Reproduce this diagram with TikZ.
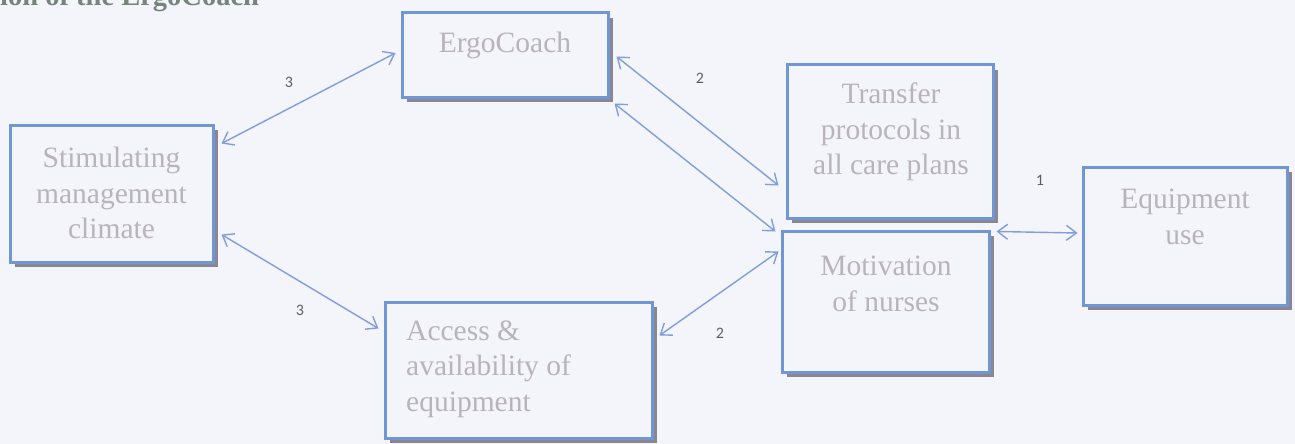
\documentclass[tikz,border=0pt]{standalone}
\usepackage{fontspec}
\setmainfont{Liberation Serif}
\newfontfamily\numfont{Carlito}
\usetikzlibrary{arrows.meta,shadows,calc}
\definecolor{bg}{RGB}{244,244,251}
\definecolor{boxblue}{RGB}{112,150,214}
\definecolor{arrblue}{RGB}{128,158,218}
\definecolor{shadowgray}{RGB}{138,134,146}
\definecolor{txtgray}{RGB}{184,180,186}
\definecolor{numgray}{RGB}{95,95,95}
\definecolor{titlecol}{RGB}{118,132,124}
\begin{document}
\begin{tikzpicture}[x=1pt,y=-1pt,
 box/.style={draw=boxblue, line width=3pt, fill=bg, inner sep=0pt,
   drop shadow={shadow xshift=5pt, shadow yshift=-5pt, fill=shadowgray, opacity=1}},
 lbl/.style={text=txtgray, font=\rmfamily\fontsize{29.5}{35.5}\selectfont, inner sep=0pt, align=center},
 num/.style={text=numgray, font=\numfont\fontsize{16}{18}\selectfont, inner sep=0pt},
 link/.style={draw=arrblue, line width=1.4pt,
   {Straight Barb[length=10pt,width=15pt]}-{Straight Barb[length=10pt,width=15pt]}}
]
\fill[bg] (0,0) rectangle (1295,444);
\useasboundingbox (0,0) rectangle (1295,444);

\node[anchor=base west, font=\rmfamily\bfseries\fontsize{28.5}{34}\selectfont, text=titlecol, inner sep=0pt] (title) at (0,6) {ion of the ErgoCoach};

% boxes
\node[box, minimum width=203pt, minimum height=137pt] (stim) at (111.5,193.5) {};
\node[box, minimum width=206pt, minimum height=84pt] (ergo) at (505,55) {};
\node[box, minimum width=206pt, minimum height=153pt] (transfer) at (890,141.5) {};
\node[box, minimum width=207pt, minimum height=141pt] (motiv) at (885.5,301.5) {};
\node[box, minimum width=204pt, minimum height=138pt] (equip) at (1185,236) {};
\node[box, minimum width=267pt, minimum height=136pt] (access) at (518.5,370) {};

% texts
\node[lbl] (stimT) at (111.5,193) {Stimulating\\management\\climate};
\node[lbl] (ergoT) at (505,45) {ErgoCoach};
\node[lbl] (transferT) at (891,132) {Transfer\\protocols in\\all care plans};
\node[lbl] (motivT) at (886,284) {Motivation\\of nurses};
\node[lbl] (equipT) at (1185,217) {Equipment\\use};
\node[lbl, align=left, anchor=west] (accessT) at (406,369) {Access \&\\availability of\\equipment};

% connectors
\draw[link] ($(stim.north east)+(7,20)$) -- ($(ergo.west)+(-5,-2)$);
\draw[link] ($(stim.south east)+(7,-29)$) -- ($(access.north west)+(-5,28)$);
\draw[link] ($(ergo.north east)+(7,45)$) -- ($(transfer.south west)+(-7,-34)$);
\draw[link] ($(ergo.south east)+(5,5)$) -- ($(motiv.north west)+(-5,2)$);
\draw[link] ($(access.north east)+(6,35)$) -- ($(motiv.north west)+(-2,22)$);
\draw[link] ($(motiv.north east)+(6,2)$) -- ($(equip.west)+(-4,-3)$);

% numbers
\node[num] (n3a) at (289,82) {3};
\node[num] (n3b) at (300,310) {3};
\node[num] (n2a) at (700,78) {2};
\node[num] (n2b) at (720,333) {2};
\node[num] (n1) at (1040,180) {1};
\end{tikzpicture}
\end{document}
